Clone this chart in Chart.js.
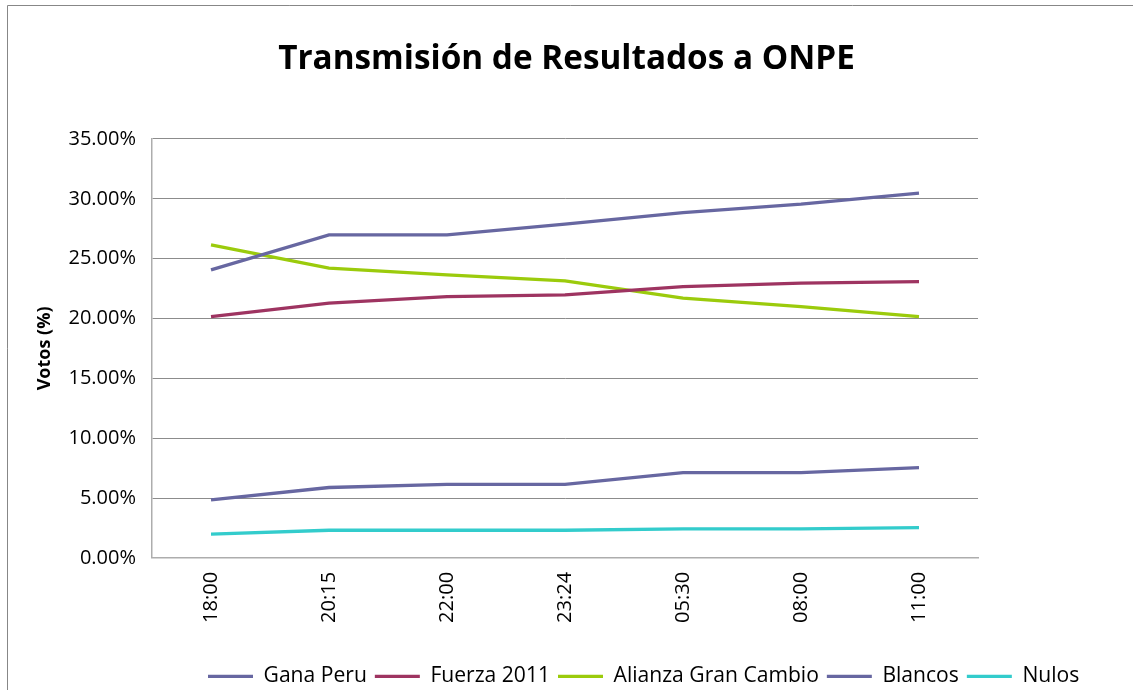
<!DOCTYPE html>
<html>
<head>
<meta charset="utf-8">
<script src="https://cdn.jsdelivr.net/npm/chart.js@4/dist/chart.umd.min.js"></script>
<style>
html,body{margin:0;padding:0;background:#fff;}
#wrap{width:1133px;height:690px;position:relative;}
</style>
</head>
<body>
<div id="wrap"><canvas id="c" width="1133" height="690"></canvas></div>
<script>
const categories = ['18:00','20:15','22:00','23:24','05:30','08:00','11:00'];
const ganaPeru = [24.06, 26.98, 26.98, 27.88, 28.85, 29.55, 30.47];
const fuerza2011 = [20.16, 21.28, 21.83, 21.97, 22.67, 22.95, 23.08];
const alianza = [26.15, 24.20, 23.64, 23.14, 21.70, 21.00, 20.16];
const blancos = [4.85, 5.88, 6.15, 6.15, 7.13, 7.13, 7.55];
const nulos = [1.98, 2.31, 2.31, 2.31, 2.42, 2.42, 2.53];
const seriesNames = ['Gana Peru','Fuerza 2011','Alianza Gran Cambio','Blancos','Nulos'];
const seriesColors = ['#6767A1','#9E3461','#9BCB0C','#6767A1','#33CCCC'];
const yTicks = [0,5,10,15,20,25,30,35];

const FONT = '"Open Sans"';
const allSeries = [ganaPeru, fuerza2011, alianza, blancos, nulos];

const framePlugin = {
  id: 'frame',
  beforeDraw(chart){
    const ctx = chart.ctx;
    ctx.save();
    ctx.fillStyle = '#fff';
    ctx.fillRect(0,0,chart.width,chart.height);
    ctx.strokeStyle = '#878787';
    ctx.lineWidth = 1;
    ctx.beginPath();
    ctx.moveTo(7.5, chart.height + 2);
    ctx.lineTo(7.5, 5.5);
    ctx.lineTo(chart.width + 2, 5.5);
    ctx.stroke();
    ctx.restore();
  },
  afterLayout(chart){
    const lg = chart.legend;
    if (lg) {
      lg.left = 200; lg.right = 1400;
      lg.top += 7; lg.bottom += 7;
    }
  }
};

new Chart(document.getElementById('c'), {
  type: 'line',
  data: {
    labels: categories,
    datasets: allSeries.map((d,i)=>({
      label: seriesNames[i],
      data: d,
      borderColor: seriesColors[i],
      backgroundColor: seriesColors[i],
      borderWidth: 3.3,
      pointRadius: 0,
      tension: 0,
      fill: false
    }))
  },
  options: {
    responsive: false,
    animation: false,
    devicePixelRatio: 1,
    layout: { padding: 0 },
    plugins: {
      title: {
        display: true,
        text: 'Transmisión de Resultados a ONPE',
        color: '#000',
        font: { family: FONT, size: 33.3, weight: 'bold', lineHeight: 1.2 },
        padding: { top: 40, bottom: 59 }
      },
      legend: {
        display: true,
        position: 'bottom',
        align: 'start',
        labels: {
          usePointStyle: true,
          pointStyle: 'line',
          pointStyleWidth: 45,
          boxHeight: 3,
          padding: 8,
          color: '#000',
          font: { family: FONT, size: 21.1 }
        }
      },
      tooltip: { enabled: false }
    },
    scales: {
      x: {
        type: 'category',
        offset: true,
        grid: { display: false, drawTicks: false },
        border: { display: true, color: '#ADADAD', width: 1.5 },
        ticks: {
          color: '#000',
          font: { family: FONT, size: 20 },
          minRotation: 90, maxRotation: 90,
          padding: 14,
          autoSkip: false
        },
        afterFit(s){ s.height = 93; }
      },
      y: {
        position: 'left',
        min: 0, max: 35,
        afterBuildTicks(s){ s.ticks = yTicks.map(v=>({value:v})); },
        grid: { color: '#8C8C8C', lineWidth: 1, drawTicks: false },
        border: { display: true, color: '#ADADAD', width: 1.5 },
        ticks: {
          color: '#000',
          font: { family: FONT, size: 20 },
          padding: 16,
          callback: v => v.toFixed(2) + '%'
        },
        title: {
          display: true,
          text: 'Votos (%)',
          color: '#000',
          font: { family: FONT, size: 18, weight: 'bold', lineHeight: 1.2 },
          padding: { top: 34, bottom: 0 }
        },
        afterFit(s){ s.width = 152; }
      },
      y2: {
        position: 'right',
        display: true,
        min: 0, max: 35,
        grid: { display: false, drawTicks: false },
        border: { display: false },
        ticks: { display: false },
        afterFit(s){ s.width = 155; }
      }
    }
  },
  plugins: [framePlugin]
});
</script>
</body>
</html>
